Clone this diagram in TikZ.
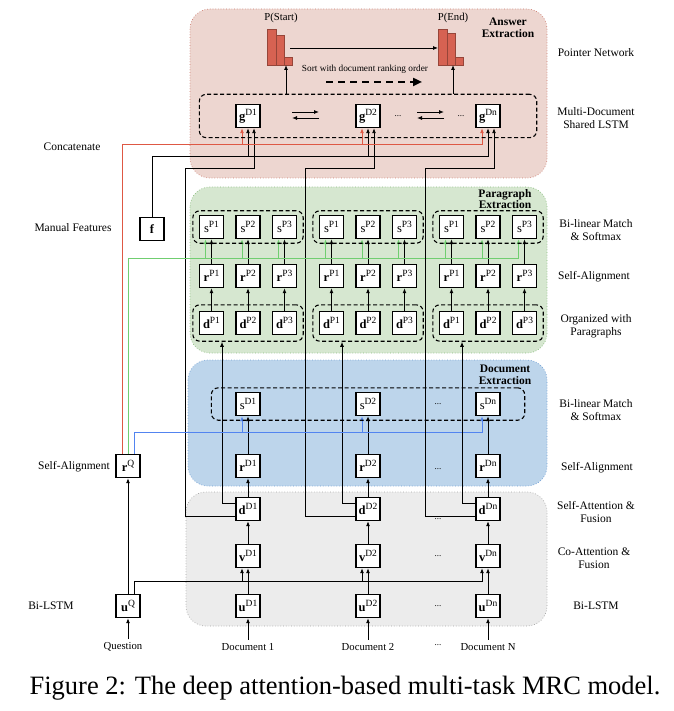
\documentclass[tikz,border=0pt]{standalone}
\usepackage{fontspec}
\setmainfont{Liberation Serif}
\usetikzlibrary{arrows.meta, positioning, fit, backgrounds}

\definecolor{answerbg}{RGB}{237,214,208}
\definecolor{answerline}{RGB}{205,125,112}
\definecolor{parabg}{RGB}{214,231,208}
\definecolor{paraline}{RGB}{140,190,128}
\definecolor{docbg}{RGB}{189,213,235}
\definecolor{docline}{RGB}{115,160,212}
\definecolor{basebg}{RGB}{236,236,236}
\definecolor{baseedge}{RGB}{165,165,165}
\definecolor{barred}{RGB}{214,98,82}
\definecolor{redwire}{RGB}{222,88,68}
\definecolor{greenwire}{RGB}{112,206,112}
\definecolor{bluewire}{RGB}{82,132,240}

\newcommand{\vsup}[2]{\textbf{#1}\raisebox{0.42em}{\fontsize{9.5}{9.5}\selectfont #2}}
\newcommand{\ssup}[1]{s\raisebox{0.42em}{\fontsize{9.5}{9.5}\selectfont #1}}

\tikzset{
  cell/.style={draw, line width=1.4pt, fill=white, minimum width=24pt, minimum height=23pt, inner sep=0pt, font=\fontsize{12.5}{12.5}\selectfont},
  cellgroup/.style={draw, line width=1.1pt, dash pattern=on 4pt off 2.5pt, rounded corners=7pt},
  region/.style={rounded corners=20pt, dotted, line width=0.7pt},
  flow/.style={-{Latex[length=5pt,width=4pt]}, line width=0.9pt},
  bar/.style={draw=barred!70!black, fill=barred, line width=0.4pt, minimum width=8.5pt, inner sep=0pt, anchor=south},
  side/.style={font=\fontsize{11.5}{12.5}\selectfont, align=center},
  inlabel/.style={font=\fontsize{10.7}{12}\selectfont},
  regiontitle/.style={font=\bfseries\fontsize{11.5}{11.5}\selectfont, align=center},
  gap/.style={font=\fontsize{9}{10}\selectfont, inner sep=0pt},
}

\begin{document}
\begin{tikzpicture}[x=1pt, y=-1pt]
  \useasboundingbox (0,0) rectangle (673,711);

  % Stage backgrounds
  \begin{scope}[on background layer]
    \fill[white] (0,0) rectangle (673,711);
    \draw[region, fill=answerbg, draw=answerline] (190,9) rectangle (547,178);
    \draw[region, fill=parabg, draw=paraline] (190,187) rectangle (547,353);
    \draw[region, fill=docbg, draw=docline] (188,360) rectangle (547,486);
    \draw[region, fill=basebg, draw=baseedge] (186,492) rectangle (547,626);
  \end{scope}
  \node[regiontitle] (anstitle) at (508,28) {Answer\\Extraction};
  \node[regiontitle] (paratitle) at (505,199) {Paragraph\\Extraction};
  \node[regiontitle] (doctitle) at (505,375) {Document\\Extraction};

  % Question side
  \node[cell] (uQ) at (128,606) {\vsup{u}{Q}};
  \node[cell] (rQ) at (128,466) {\vsup{r}{Q}};
  \node[cell] (f) at (152,229) {\textbf{f}};
  \node[inlabel] (question) at (123,647) {Question};
  \draw[flow] (question.north -| uQ.south) -- (uQ.south);
  \draw[flow] (uQ) -- (rQ);

  \coordinate (qbus) at (134,581);
  \coordinate (bluebus) at (134,432);
  \coordinate (greenbus) at (128,258);
  \coordinate (redbus) at (122,144);
  \coordinate (fbus) at (152,156);
  \draw[line width=0.9pt] (f.north) -- (fbus);

  % Document columns
  \foreach \i/\x/\n/\doc in {1/248/1/1, 2/368/2/2, 3/488/n/N} {
    \node[cell] (u\i) at (\x,606) {\vsup{u}{D\n}};
    \node[cell] (v\i) at (\x,556) {\vsup{v}{D\n}};
    \node[cell] (d\i) at (\x,509) {\vsup{d}{D\n}};
    \node[cell] (r\i) at (\x,466) {\vsup{r}{D\n}};
    \node[cell] (s\i) at (\x,404) {\ssup{D\n}};
    \node[cell] (g\i) at (\x,116) {\vsup{g}{D\n}};
    \node[inlabel] (doc\i) at (\x,647) {Document \doc};

    % paragraphs of this document
    \foreach \j in {1,2,3} {
      \node[cell] (pd\i\j) at ({\x+(\j-2)*36.5},323) {\vsup{d}{P\j}};
      \node[cell] (pr\i\j) at ({\x+(\j-2)*36.5},276) {\vsup{r}{P\j}};
      \node[cell] (ps\i\j) at ({\x+(\j-2)*36.5},227) {\ssup{P\j}};
      \draw[flow, greenwire] (rQ.north) -- (greenbus) -| ([xshift=-6pt]ps\i\j.south);
      \draw[flow] (pd\i\j) -- (pr\i\j);
      \draw[flow] (pr\i\j) -- (ps\i\j);
    }
    \node[cellgroup, fit=(ps\i1)(ps\i3), inner xsep=6pt, inner ysep=4pt] (psg\i) {};
    \node[cellgroup, fit=(pd\i1)(pd\i3), inner xsep=6pt, inner ysep=6pt] (pdg\i) {};

    % question wires
    \draw[flow] ([xshift=6pt]uQ.north) -- (qbus) -| ([xshift=-6pt]v\i.south);
    \draw[flow, bluewire] ([xshift=6pt]rQ.north) -- (bluebus) -| ([xshift=-6pt]s\i.south);
    \draw[flow, redwire] ([xshift=-6pt]rQ.north) -- (redbus) -| ([xshift=-6pt]g\i.south);
    \draw[flow] (fbus) -| (g\i.south);

    % bottom-up flow
    \draw[flow] (doc\i) -- (u\i);
    \draw[flow] (u\i) -- (v\i);
    \draw[flow] (v\i) -- (d\i);
    \draw[flow] (d\i) -- (r\i);
    \draw[flow] (r\i) -- (s\i);
    \draw[flow] ([yshift=6pt]d\i.west) -| ([xshift=-26pt]pdg\i.south);
    \coordinate (up\i) at ({\x-63},168);
    \draw[flow] ([yshift=-7pt]d\i.west) -| (up\i) -| ([xshift=6pt]g\i.south);
  }
  \node[cellgroup, fit=(s1)(s3), inner xsep=24pt, inner ysep=4pt] (sg) {};
  \node[cellgroup, fit=(g1)(g3), inner xsep=36pt, inner ysep=9.5pt] (gg) {};

  % gaps between documents
  \node[gap] (gapg1) at (398,116) {...};
  \node[gap] (gapg2) at (461,116) {...};
  \node[gap] (gaps) at (438,404) {...};
  \node[gap] (gapr) at (438,469) {...};
  \node[gap] (gapd) at (438,519) {...};
  \node[gap] (gapv) at (438,556) {...};
  \node[gap] (gapu) at (438,606) {...};
  \node[gap] (gapdoc) at (438,645) {...};

  % passing states in the shared LSTM
  \foreach \ax in {292, 417} {
    \draw[flow] (\ax,112) -- ({\ax+27},112);
    \draw[flow] ({\ax+27},118) -- (\ax,118);
  }

  % Pointer network
  \node[bar, minimum height=36pt] (st1) at (271.5,65) {};
  \node[bar, minimum height=30pt] (st2) at (280,65) {};
  \node[bar, minimum height=8pt] (st3) at (288,65) {};
  \node[bar, minimum height=36pt] (en1) at (442.5,65) {};
  \node[bar, minimum height=32pt] (en2) at (451,65) {};
  \node[bar, minimum height=8pt] (en3) at (459,65) {};
  \node[inlabel] (pstart) at (281,18) {P(Start)};
  \node[inlabel] (pend) at (453,18) {P(End)};
  \draw[flow] ([xshift=-2pt]st3.south |- gg.north) -- ([xshift=-2pt]st3.south);
  \draw[flow] ([xshift=2pt]en2.south |- gg.north) -- ([xshift=2pt]en2.south);
  \coordinate (sortline) at (290,48);
  \draw[flow] (sortline) -- (sortline -| en1.west);
  \node[font=\fontsize{9.3}{10}\selectfont] (sorttxt) at (365,69) {Sort with document ranking order};
  \draw[line width=2.4pt, dash pattern=on 7pt off 5pt, -{Triangle[length=9pt, width=8pt]}] (326,82) -- (422,82);

  % Left labels
  \node[side] (concat) at (72,147) {Concatenate};
  \node[side] (manual) at (73,228) {Manual Features};
  \node[side] (qalign) at (74,467) {Self-Alignment};
  \node[side] (qlstm) at (51,606) {Bi-LSTM};

  % Right labels
  \node[side] at (596,53) {Pointer Network};
  \node[side] at (596,118) {Multi-Document\\Shared LSTM};
  \node[side] at (596,230) {Bi-linear Match\\\& Softmax};
  \node[side] at (594,277) {Self-Alignment};
  \node[side] at (596,326) {Organized with\\Paragraphs};
  \node[side] at (596,410) {Bi-linear Match\\\& Softmax};
  \node[side] at (597,468) {Self-Alignment};
  \node[side] at (596,512) {Self-Attention \&\\Fusion};
  \node[side] at (594,558) {Co-Attention \&\\Fusion};
  \node[side] at (596,606) {Bi-LSTM};

  % Caption
  \node[font=\fontsize{26.5}{28}\selectfont] (caption) at (345,688) {Figure 2: The deep attention-based multi-task MRC model.};
\end{tikzpicture}
\end{document}
